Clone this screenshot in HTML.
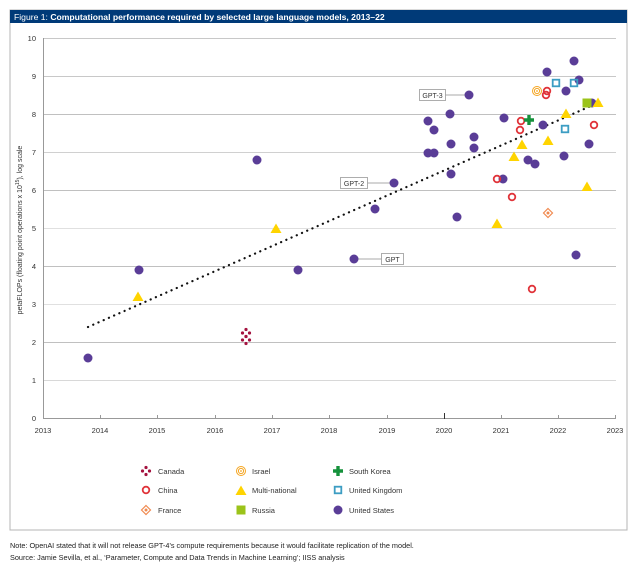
<!DOCTYPE html>
<html><head><meta charset="utf-8"><style>
body{margin:0;background:#fff;width:628px;height:563px;overflow:hidden;font-family:"Liberation Sans",sans-serif}
</style></head><body>
<svg width="628" height="563" xmlns="http://www.w3.org/2000/svg" font-family="Liberation Sans, sans-serif">
<defs>
<g id="us"><circle r="4.5" fill="#5a3d97"/></g>
<g id="cn"><circle r="3.3" fill="none" stroke="#e0343a" stroke-width="1.8"/></g>
<g id="mn"><path d="M0,-5.5 L5.5,4 L-5.5,4Z" fill="#ffd400"/></g>
<g id="uk"><rect x="-3.3" y="-3.3" width="6.6" height="6.6" fill="none" stroke="#3c9dc3" stroke-width="1.8"/></g>
<g id="il"><circle r="4.5" fill="none" stroke="#f5a623" stroke-width="1"/><circle r="2.6" fill="none" stroke="#f5a623" stroke-width="1"/><circle r="0.9" fill="#f5a623"/></g>
<g id="kr"><path d="M-1.7,-5h3.4v3.3h3.3v3.4h-3.3v3.3h-3.4v-3.3h-3.3v-3.4h3.3z" fill="#15913b"/></g>
<g id="ru"><rect x="-4.5" y="-4.5" width="9" height="9" fill="#9bc31a"/></g>
<g id="fr"><path d="M0,-4.5L4.5,0L0,4.5L-4.5,0Z" fill="none" stroke="#f08a50" stroke-width="1.2"/><circle r="1.5" fill="#f08a50"/></g>
<g id="ca" fill="#a4123f"><circle cx="0" cy="-3.5" r="1.6"/><circle cx="0" cy="3.5" r="1.6"/><circle cx="-3.5" cy="0" r="1.6"/><circle cx="3.5" cy="0" r="1.6"/></g>
</defs>
<rect x="10" y="10" width="617" height="520" fill="none" stroke="#b5b5b5"/>
<rect x="10" y="10" width="617" height="13" fill="#003a78"/>
<text x="14" y="20" font-size="8.6" fill="#fff"><tspan>Figure 1: </tspan><tspan font-weight="bold">Computational performance required by selected large language models, 2013–22</tspan></text>
<g stroke-width="1">
<line x1="43" x2="616" y1="38.5" y2="38.5" stroke="#c8c8c8"/>
<line x1="43" x2="616" y1="76.5" y2="76.5" stroke="#c8c8c8"/>
<line x1="43" x2="616" y1="114.5" y2="114.5" stroke="#c0c0c0"/>
<line x1="43" x2="616" y1="152.5" y2="152.5" stroke="#d0d0d0"/>
<line x1="43" x2="616" y1="190.5" y2="190.5" stroke="#c0c0c0"/>
<line x1="43" x2="616" y1="228.5" y2="228.5" stroke="#e0e0e0"/>
<line x1="43" x2="616" y1="266.5" y2="266.5" stroke="#c0c0c0"/>
<line x1="43" x2="616" y1="304.5" y2="304.5" stroke="#e0e0e0"/>
<line x1="43" x2="616" y1="342.5" y2="342.5" stroke="#c0c0c0"/>
<line x1="43" x2="616" y1="380.5" y2="380.5" stroke="#d8d8d8"/>
<line x1="43" x2="616" y1="418.5" y2="418.5" stroke="#999"/>
<line x1="43.5" x2="43.5" y1="38" y2="419" stroke="#999"/>
</g>
<g font-size="7.5" fill="#333" text-anchor="end">
<text x="36" y="41">10</text><text x="36" y="79">9</text><text x="36" y="117">8</text><text x="36" y="155">7</text><text x="36" y="193">6</text><text x="36" y="231">5</text><text x="36" y="269">4</text><text x="36" y="307">3</text><text x="36" y="345">2</text><text x="36" y="383">1</text><text x="36" y="421">0</text>
</g>
<g font-size="7.5" fill="#333" text-anchor="middle" stroke="#999">
<line x1="100.5" x2="100.5" y1="415" y2="419"/><line x1="157.5" x2="157.5" y1="415" y2="419"/><line x1="215.5" x2="215.5" y1="415" y2="419"/><line x1="272.5" x2="272.5" y1="415" y2="419"/><line x1="329.5" x2="329.5" y1="415" y2="419"/><line x1="387.5" x2="387.5" y1="415" y2="419"/><line x1="444.5" x2="444.5" y1="413" y2="419" stroke="#333"/><line x1="501.5" x2="501.5" y1="415" y2="419"/><line x1="558.5" x2="558.5" y1="415" y2="419"/><line x1="615.5" x2="615.5" y1="415" y2="419"/>
</g>
<g font-size="7.5" fill="#333" text-anchor="middle">
<text x="43" y="433">2013</text><text x="100" y="433">2014</text><text x="157" y="433">2015</text><text x="215" y="433">2016</text><text x="272" y="433">2017</text><text x="329" y="433">2018</text><text x="387" y="433">2019</text><text x="444" y="433">2020</text><text x="501" y="433">2021</text><text x="558" y="433">2022</text><text x="615" y="433">2023</text>
</g>
<text transform="translate(22,230) rotate(-90)" font-size="7" fill="#333" text-anchor="middle">petaFLOPs (floating point operations x 10<tspan font-size="5" dy="-3">15</tspan><tspan dy="3">), log scale</tspan></text>
<line x1="88" y1="327" x2="600" y2="102" stroke="#111" stroke-width="2.2" stroke-dasharray="0.1 5.6" stroke-linecap="round"/>
<!-- labels -->
<g stroke="#bbb" stroke-width="1.2"><line x1="445" y1="95" x2="469" y2="95"/><line x1="367" y1="183" x2="394" y2="183"/><line x1="354" y1="259" x2="382" y2="259"/></g>
<g fill="#fff" stroke="#999" stroke-width="0.8"><rect x="419.5" y="89.5" width="26" height="11"/><rect x="340.5" y="177.5" width="27" height="11"/><rect x="381.5" y="253.5" width="22" height="11"/></g>
<g font-size="7" fill="#333" text-anchor="middle"><text x="432.5" y="98">GPT-3</text><text x="354" y="186">GPT-2</text><text x="392.5" y="262">GPT</text></g>
<!-- US -->
<g>
<use href="#us" x="88" y="358"/><use href="#us" x="139" y="270"/><use href="#us" x="257" y="160"/><use href="#us" x="298" y="270"/><use href="#us" x="354" y="259"/><use href="#us" x="375" y="209"/><use href="#us" x="394" y="183"/>
<use href="#us" x="574" y="61"/><use href="#us" x="547" y="72"/><use href="#us" x="579" y="80"/><use href="#us" x="566" y="91"/><use href="#us" x="469" y="95"/><use href="#us" x="592" y="103"/><use href="#us" x="450" y="114"/><use href="#us" x="504" y="118"/><use href="#us" x="428" y="121"/><use href="#us" x="434" y="130"/><use href="#us" x="543" y="125"/><use href="#us" x="474" y="137"/><use href="#us" x="451" y="144"/><use href="#us" x="589" y="144"/><use href="#us" x="428" y="153"/><use href="#us" x="434" y="153"/><use href="#us" x="474" y="148"/><use href="#us" x="564" y="156"/><use href="#us" x="528" y="160"/><use href="#us" x="535" y="164"/><use href="#us" x="451" y="174"/><use href="#us" x="503" y="179"/><use href="#us" x="457" y="217"/><use href="#us" x="576" y="255"/>
</g>
<use href="#cn" x="547" y="91"/><use href="#cn" x="546" y="95"/><use href="#cn" x="521" y="121"/><use href="#cn" x="520" y="130"/><use href="#cn" x="594" y="125"/><use href="#cn" x="497" y="179"/><use href="#cn" x="512" y="197"/><use href="#cn" x="532" y="289"/>
<use href="#il" x="537" y="91"/>
<use href="#uk" x="556" y="83"/><use href="#uk" x="574" y="83"/><use href="#uk" x="565" y="129"/>
<use href="#ru" x="587" y="103"/>
<use href="#kr" x="529" y="120"/>
<use href="#mn" x="598" y="103"/><use href="#mn" x="566" y="114"/><use href="#mn" x="548" y="141"/><use href="#mn" x="522" y="145"/><use href="#mn" x="514" y="157"/><use href="#mn" x="587" y="187"/><use href="#mn" x="497" y="224"/><use href="#mn" x="138" y="297"/><use href="#mn" x="276" y="229"/>
<use href="#fr" x="548" y="213"/>
<use href="#ca" x="246" y="333"/><use href="#ca" x="246" y="340"/>
<!-- legend -->
<use href="#ca" x="146" y="471"/><use href="#cn" x="146" y="490" /><use href="#fr" x="146" y="510"/>
<use href="#il" x="241" y="471"/><use href="#mn" x="241" y="491"/><use href="#ru" x="241" y="510"/>
<use href="#kr" x="338" y="471"/><use href="#uk" x="338" y="490"/><use href="#us" x="338" y="510"/>
<g font-size="7.5" fill="#333">
<text x="158" y="474">Canada</text><text x="158" y="493">China</text><text x="158" y="513">France</text>
<text x="252" y="474">Israel</text><text x="252" y="493">Multi-national</text><text x="252" y="513">Russia</text>
<text x="349" y="474">South Korea</text><text x="349" y="493">United Kingdom</text><text x="349" y="513">United States</text>
</g>
<g font-size="7.3" fill="#222">
<text x="10" y="548">Note: OpenAI stated that it will not release GPT-4’s compute requirements because it would facilitate replication of the model.</text>
<text x="10" y="560">Source: Jamie Sevilla, et al., ‘Parameter, Compute and Data Trends in Machine Learning’; IISS analysis</text>
</g>
</svg>
</body></html>
